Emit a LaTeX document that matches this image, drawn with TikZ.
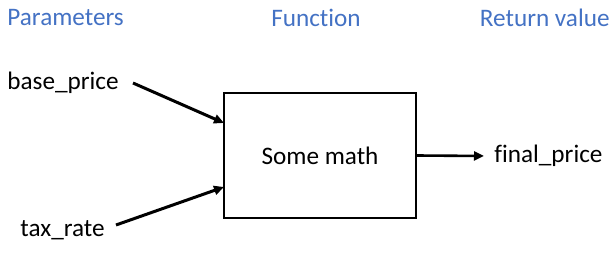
\documentclass[tikz,border=0pt]{standalone}
\usepackage{fontspec}
\setmainfont[Ligatures=NoCommon]{Carlito}
\usetikzlibrary{arrows.meta}
\definecolor{headblue}{HTML}{4472C4}
\begin{document}
\begin{tikzpicture}[x=0.5pt,y=-0.5pt,
  head/.style={text=headblue,font=\fontsize{12.6}{15}\selectfont,inner sep=0pt},
  lbl/.style={font=\fontsize{12.6}{15}\selectfont,inner sep=0pt},
  arr/.style={line width=1.5pt,-{Triangle[length=5pt,width=4.5pt]}},
  fbox/.style={draw,line width=0.6pt,minimum width=96pt,minimum height=62.5pt,inner sep=0pt,
    font=\fontsize{12.6}{15}\selectfont}]
\useasboundingbox (0,0) rectangle (616,256);
% column headings
\node[head,anchor=west] (hpar) at (7,18) {Parameters};
\node[head] (hfun) at (316,18) {Function};
\node[head,anchor=east] (hret) at (610,18) {Return value};
% inputs, function box and output
\node[lbl,anchor=west] (base) at (7,83) {base\_price};
\node[lbl,anchor=west] (tax) at (20,230) {tax\_rate};
\node[fbox] (f) at (320,155.5) {Some math};
\node[lbl,anchor=west] (out) at (494,156) {final\_price};
\coordinate (bs) at (133,83);
\coordinate (be) at (224,123);
\coordinate (ts) at (116,225);
\coordinate (te) at (224,187);
\coordinate (oe) at (484,156);
\draw[arr] (bs) -- (be);
\draw[arr] (ts) -- (te);
\draw[arr,line width=1.3pt] (f.east) -- (oe);
\end{tikzpicture}
\end{document}
